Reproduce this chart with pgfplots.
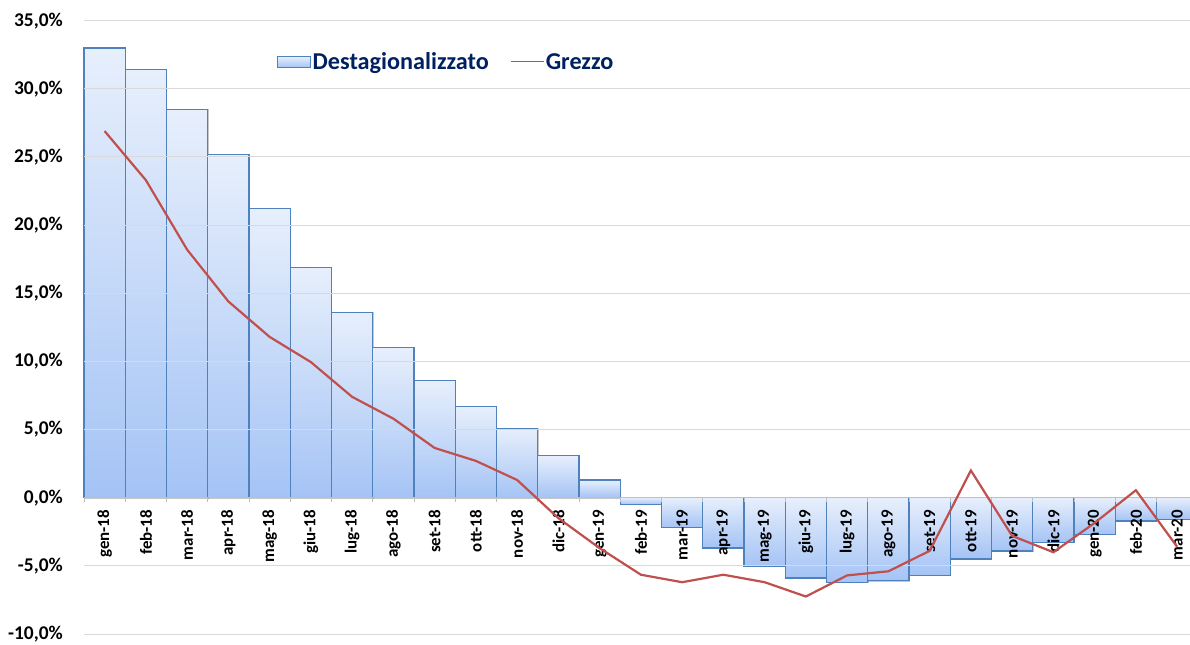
\documentclass[border=0pt]{standalone}
\usepackage{fontspec}
\setmainfont{Carlito}
\usepackage{pgfplots}
\pgfplotsset{compat=1.18}
\usepackage{pgfplotstable}
\definecolor{barborder}{RGB}{79,129,189}
\definecolor{bartop}{RGB}{231,239,252}
\definecolor{barbot}{RGB}{164,195,245}
\definecolor{grezzo}{RGB}{192,80,77}
\definecolor{navy}{RGB}{0,32,96}
\definecolor{gridgray}{RGB}{217,217,217}
\definecolor{zerogray}{RGB}{191,191,191}

\pgfplotsset{
  layers/mylayers/.define layer set={axis background,axis grid,pre main,axis ticks,axis lines,axis tick labels,main,axis descriptions,axis foreground}{},
  barlegend/.style={legend image code/.code={\shade[top color=bartop, bottom color=barbot, draw=barborder, line width=0.8bp] (0bp,-5.5bp) rectangle (33bp,5.5bp);}},
  linelegend/.style={legend image code/.code={\draw[##1, line width=1bp] (0bp,0bp) -- (33bp,0bp);}},
}

\pgfplotstableread{
x des grez
0 33.0 26.9
1 31.4 23.3
2 28.5 18.2
3 25.2 14.4
4 21.2 11.8
5 16.9 9.95
6 13.6 7.4
7 11.0 5.8
8 8.6 3.65
9 6.7 2.7
10 5.1 1.3
11 3.1 -1.5
12 1.3 -3.7
13 -0.5 -5.65
14 -2.2 -6.2
15 -3.7 -5.65
16 -5.0 -6.2
17 -5.9 -7.25
18 -6.2 -5.7
19 -6.1 -5.4
20 -5.7 -3.9
21 -4.5 2.0
22 -3.9 -2.8
23 -3.3 -4.0
24 -2.7 -1.85
25 -1.7 0.55
26 -1.6 -3.6
}\data

\begin{document}
\begin{tikzpicture}
\begin{axis}[
  set layers=mylayers,
  scale only axis,
  width=1106bp, height=613.3bp,
  xmin=-0.5, xmax=26.312,
  ymin=-10, ymax=35,
  axis x line=middle,
  axis y line=left,
  every non boxed x axis/.append style={x axis line style=-},
  every non boxed y axis/.append style={y axis line style=-},
  x axis line style={-, draw=zerogray, line width=1bp},
  y axis line style={draw=none},
  major tick length=0pt,
  xtick={0,...,26},
  xticklabels={gen-18,feb-18,mar-18,apr-18,mag-18,giu-18,lug-18,ago-18,set-18,ott-18,nov-18,dic-18,gen-19,feb-19,mar-19,apr-19,mag-19,giu-19,lug-19,ago-19,set-19,ott-19,nov-19,dic-19,gen-20,feb-20,mar-20},
  extra x ticks={-0.5,0.5,...,25.5},
  extra x tick labels={},
  extra x tick style={major tick length=4bp, tick align=outside, tick style={draw=zerogray, line width=1bp}},
  xticklabel style={yshift=-12bp, rotate=90, anchor=east, inner sep=0pt, font=\bfseries\fontsize{17}{19}\selectfont},
  ytick={-10,-5,...,35},
  yticklabels={{-10,0\%},{-5,0\%},{0,0\%},{5,0\%},{10,0\%},{15,0\%},{20,0\%},{25,0\%},{30,0\%},{35,0\%}},
  yticklabel style={anchor=east, inner sep=0pt, xshift=-21bp, font=\bfseries\fontsize{19.5}{21}\selectfont},
  ymajorgrids,
  grid style={gridgray, line width=1bp},
  clip marker paths=true,
  legend columns=2,
  legend style={draw=none, fill=none, at={(0.172,0.9327)}, anchor=west,
    font=\bfseries\fontsize{24.3}{26}\selectfont, text=navy,
    /tikz/every even column/.append style={column sep=20bp},
    nodes={inner sep=1.5bp}},
]
\addplot[on layer=pre main, scatter, only marks, mark=*, mark size=0pt,
  mark options={draw=none, fill=none},
  visualization depends on={-\thisrow{des} \as \negy},
  scatter/use mapped color={draw=none, fill=none},
  scatter/@pre marker code/.code={%
    \fill[black, opacity=0.22, shift={(2bp,-2bp)}]
      (axis direction cs:-0.5,0) rectangle (axis direction cs:0.5,\negy);
    \shade[top color=bartop, bottom color=barbot, draw=barborder, line width=1.3bp]
      (axis direction cs:-0.5,0) rectangle (axis direction cs:0.5,\negy);
  },
  scatter/@post marker code/.code={},
  barlegend]
  table[x=x, y=des] {\data};
\addlegendentry{Destagionalizzato}
\addplot[sharp plot, no marks, draw=grezzo, line width=2.2bp, linelegend]
  table[x=x, y=grez] {\data};
\addlegendentry{Grezzo}
\end{axis}
\pgfresetboundingbox
\path (-84bp,-11bp) rectangle (1106bp,634bp);
\end{tikzpicture}
\end{document}
